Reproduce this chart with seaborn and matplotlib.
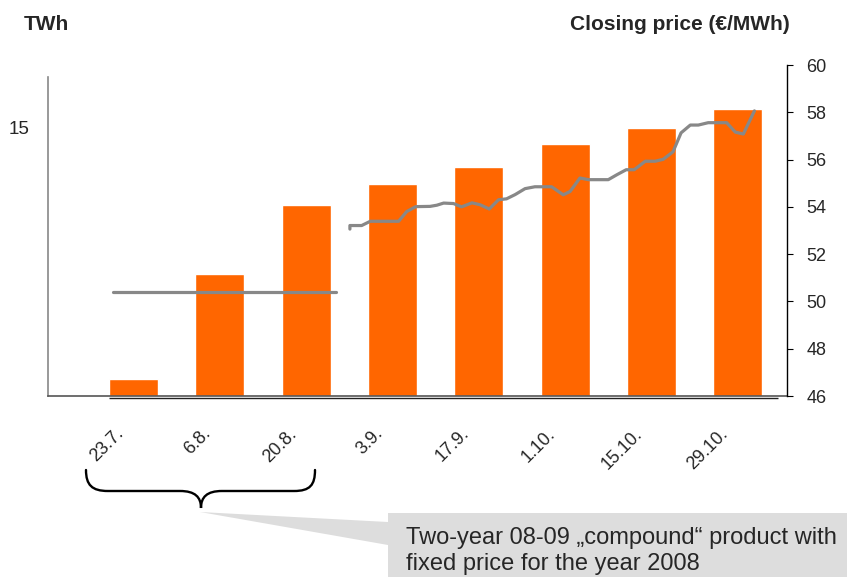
import numpy as np
import matplotlib
matplotlib.use("Agg")
import matplotlib.pyplot as plt
import matplotlib.transforms as mtransforms
from matplotlib.path import Path
from matplotlib.patches import PathPatch, Polygon
import seaborn as sns

# bi-weekly auction dates and volumes (TWh)
dates = ["23.7.", "6.8.", "20.8.", "3.9.", "17.9.", "1.10.", "15.10.", "29.10."]
volume = [0.95, 6.85, 10.7, 11.85, 12.8, 14.1, 15.0, 16.05]

# closing price (EUR/MWh), x = days after 23.7.
price_days = [35.1, 35.1, 37.0, 38.4, 43.0, 44.3, 45.8, 48.1, 49.2, 50.3,
              51.9, 53.2, 54.9, 56.2, 57.7, 59.2, 60.5, 61.9, 63.5, 65.1,
              67.8, 69.7, 70.8, 72.4, 73.8, 77.0, 78.4, 79.9, 81.2, 83.0,
              84.6, 85.9, 87.5, 88.8, 90.3, 91.6, 93.2, 96.2, 97.6, 98.9,
              100.7]
price = [53.06, 53.21, 53.21, 53.39, 53.39, 53.80, 54.01, 54.02, 54.07, 54.16,
         54.14, 54.00, 54.17, 54.09, 53.91, 54.30, 54.34, 54.52, 54.77, 54.85,
         54.85, 54.51, 54.65, 55.22, 55.15, 55.15, 55.36, 55.57, 55.57, 55.93,
         55.93, 56.01, 56.33, 57.13, 57.46, 57.46, 57.56, 57.56, 57.16, 57.08,
         58.06]

# fixed price of the two-year compound product
fixed_days = [-3.3, 32.9]
fixed_price = [50.4, 50.4]

right_ticks = list(range(46, 61, 2))

sns.set_style("white")
plt.rcParams["font.family"] = ["Liberation Sans", "DejaVu Sans"]

W, H = 847, 577
fig = plt.figure(figsize=(W / 100, H / 100), dpi=100)
ax = fig.add_axes([48 / W, (H - 396) / H, (787 - 48) / W, (396 - 65) / H])

sns.barplot(x=dates, y=volume, color="#FF6600", saturation=1, width=0.57, ax=ax)
ax.set_xlim(-0.99, 7.57)
ax.set_ylim(0, 18.52)
ax.set_yticks([15])
ax.set_xlabel("")
ax.set_ylabel("")
ax.tick_params(axis="y", length=0, pad=13, labelsize=13.5)
ax.tick_params(axis="x", length=0, pad=21, labelsize=13)
shift = mtransforms.ScaledTranslation(-6 / 100, 0, fig.dpi_scale_trans)
for lab in ax.get_xticklabels():
    lab.set_rotation(45)
    lab.set_ha("right")
    lab.set_transform(lab.get_transform() + shift)

for s in ["top", "right"]:
    ax.spines[s].set_visible(False)
ax.spines["left"].set_color("#888888")
ax.spines["left"].set_linewidth(1.2)
ax.spines["left"].set_bounds(0, 17.87)
ax.spines["bottom"].set_color("#555555")
ax.spines["bottom"].set_linewidth(1.2)
ax.hlines(-0.1, -0.28, 7.47, color="#222222", lw=1.0, clip_on=False)

ax2 = ax.twinx()
sns.lineplot(x=np.array(price_days) / 14, y=price, ax=ax2, color="#888888",
             lw=2.3, estimator=None, sort=False)
sns.lineplot(x=np.array(fixed_days) / 14, y=fixed_price, ax=ax2, color="#888888",
             lw=2.3, estimator=None, sort=False)
ax2.set_xlim(-0.99, 7.57)
ax2.set_ylim(46, 60)
ax2.set_yticks(right_ticks)
ax2.set_ylabel("")
ax2.tick_params(axis="y", direction="out", length=4, width=0.8, color="black",
                pad=10, labelsize=13, right=True)
for s in ["top", "left", "bottom"]:
    ax2.spines[s].set_visible(False)
ax2.spines["right"].set_color("black")
ax2.spines["right"].set_linewidth(1.0)

fig.text(24 / W, 1 - 24 / H, "TWh", fontsize=15, fontweight="bold", va="center")
fig.text(790 / W, 1 - 24 / H, "Closing price (€/MWh)", fontsize=15,
         fontweight="bold", va="center", ha="right")

# brace and callout in pixel coordinates
ov = fig.add_axes([0, 0, 1, 1], facecolor="none")
ov.set_xlim(0, W)
ov.set_ylim(H, 0)
ov.axis("off")
verts = [(86, 470), (86, 485), (92, 491), (108, 491), (180, 491),
         (195, 491), (201, 497), (201, 508),
         (201, 497), (207, 491), (222, 491), (294, 491),
         (310, 491), (315, 485), (315, 470)]
codes = [Path.MOVETO, Path.CURVE4, Path.CURVE4, Path.CURVE4, Path.LINETO,
         Path.CURVE4, Path.CURVE4, Path.CURVE4,
         Path.CURVE4, Path.CURVE4, Path.CURVE4, Path.LINETO,
         Path.CURVE4, Path.CURVE4, Path.CURVE4]
ov.add_patch(PathPatch(Path(verts, codes), fill=False, lw=1.7, color="black",
                       capstyle="round"))
ov.add_patch(Polygon([(200, 512), (388, 522), (388, 513), (W, 513), (W, H),
                      (388, H), (388, 545)], closed=True, color="#DDDDDD", lw=0))
ov.text(406, 570, "Two-year 08-09 „compound“ product with\nfixed price for the year 2008",
        fontsize=17, va="baseline", ha="left", linespacing=1.25)

fig.savefig("out.png", dpi=100)
